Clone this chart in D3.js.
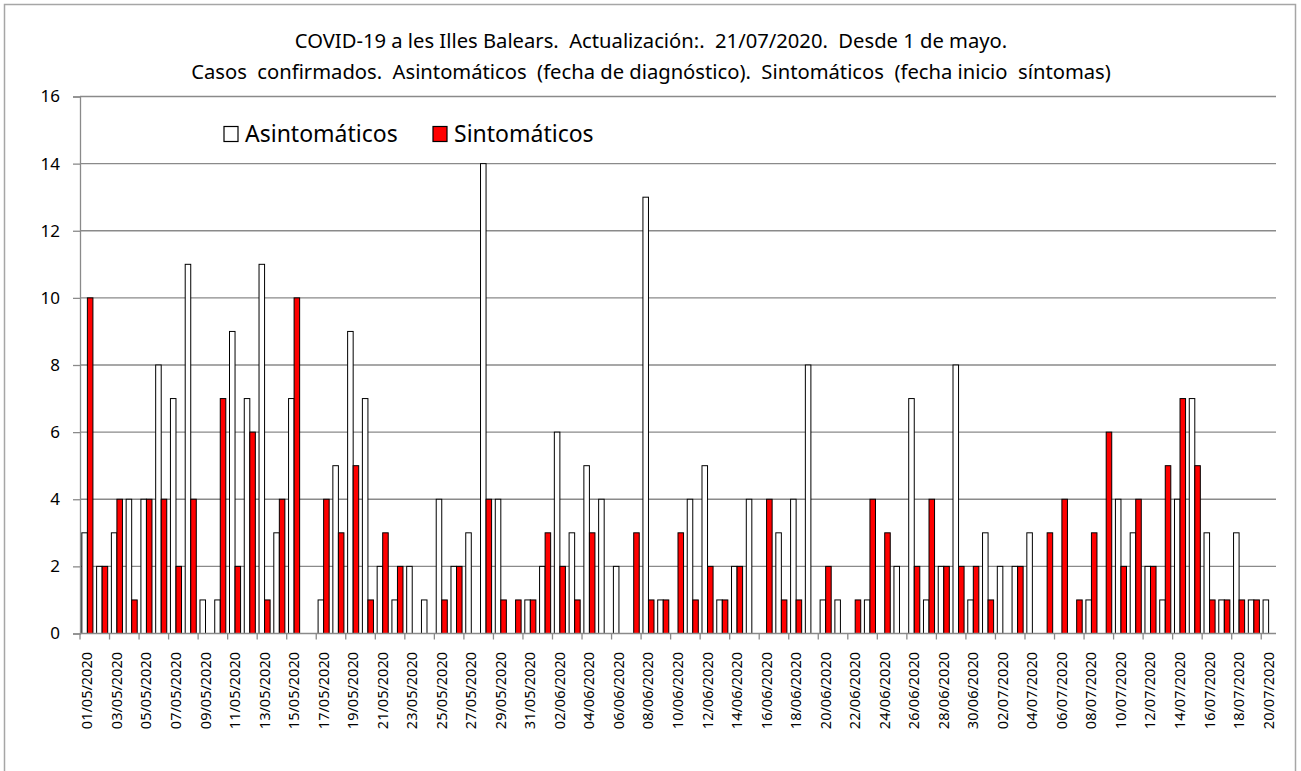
<!DOCTYPE html>
<html>
<head>
<meta charset="utf-8">
<script src="https://cdn.jsdelivr.net/npm/d3@7"></script>
<style>
  body { margin: 0; background: #fff; }
  text { font-family: "Noto Sans", sans-serif; fill: #000; }
</style>
</head>
<body>
<svg id="chart" width="1301" height="771"></svg>
<script>
// Daily confirmed cases, Illes Balears, 1 May – 20 July 2020
const dates = [
  "01/05/2020","02/05/2020","03/05/2020","04/05/2020","05/05/2020","06/05/2020","07/05/2020","08/05/2020","09/05/2020","10/05/2020",
  "11/05/2020","12/05/2020","13/05/2020","14/05/2020","15/05/2020","16/05/2020","17/05/2020","18/05/2020","19/05/2020","20/05/2020",
  "21/05/2020","22/05/2020","23/05/2020","24/05/2020","25/05/2020","26/05/2020","27/05/2020","28/05/2020","29/05/2020","30/05/2020",
  "31/05/2020","01/06/2020","02/06/2020","03/06/2020","04/06/2020","05/06/2020","06/06/2020","07/06/2020","08/06/2020","09/06/2020",
  "10/06/2020","11/06/2020","12/06/2020","13/06/2020","14/06/2020","15/06/2020","16/06/2020","17/06/2020","18/06/2020","19/06/2020",
  "20/06/2020","21/06/2020","22/06/2020","23/06/2020","24/06/2020","25/06/2020","26/06/2020","27/06/2020","28/06/2020","29/06/2020",
  "30/06/2020","01/07/2020","02/07/2020","03/07/2020","04/07/2020","05/07/2020","06/07/2020","07/07/2020","08/07/2020","09/07/2020",
  "10/07/2020","11/07/2020","12/07/2020","13/07/2020","14/07/2020","15/07/2020","16/07/2020","17/07/2020","18/07/2020","19/07/2020",
  "20/07/2020"
];

const asintomaticos = [
  3,2,3,4,4,8,7,11,1,1,
  9,7,11,3,7,0,1,5,9,7,
  2,1,2,1,4,2,3,14,4,0,
  1,2,6,3,5,4,2,0,13,1,
  0,4,5,1,2,4,0,3,4,8,
  1,1,0,1,0,2,7,1,2,8,
  1,3,2,2,3,0,0,0,1,0,
  4,3,2,1,4,7,3,1,3,1,
  1
];

const sintomaticos = [
  10,2,4,1,4,4,2,4,0,7,
  2,6,1,4,10,0,4,3,5,1,
  3,2,0,0,1,2,0,4,1,1,
  1,3,2,1,3,0,0,3,1,1,
  3,1,2,1,2,0,4,1,1,0,
  2,0,1,4,3,0,2,4,2,2,
  2,1,0,2,0,3,4,1,3,6,
  2,4,2,5,7,5,1,1,1,1,
  0
];

const seriesNames = ["Asintomáticos", "Sintomáticos"];
const seriesColors = ["#ffffff", "#ff0000"];
const yTicks = [0, 2, 4, 6, 8, 10, 12, 14, 16];
const titleLines = [
  "COVID-19 a les Illes Balears.  Actualización:.  21/07/2020.  Desde 1 de mayo.",
  "Casos  confirmados.  Asintomáticos  (fecha de diagnóstico).  Sintomáticos  (fecha inicio  síntomas)"
];

const svg = d3.select("#chart");

const plot = { left: 80, right: 1276, top: 96.5, bottom: 633.5 };

// outer frame
svg.append("rect")
  .attr("x", 4.5).attr("y", 4.5)
  .attr("width", 1291).attr("height", 800)
  .attr("fill", "none").attr("stroke", "#a6a6a6").attr("stroke-width", 1.5);

// title
svg.append("g").selectAll("text").data(titleLines).join("text")
  .attr("x", 651)
  .attr("y", (d, i) => 48 + i * 31)
  .attr("text-anchor", "middle")
  .attr("font-size", 20.2)
  .style("white-space", "pre")
  .text(d => d);

// scales
const x = d3.scaleBand()
  .domain(dates)
  .range([plot.left, plot.right])
  .paddingInner(0.25)
  .paddingOuter(0.125);

const xSub = d3.scaleBand()
  .domain(seriesNames)
  .range([0, x.bandwidth()]);

const y = d3.scaleLinear().domain([0, 16]).range([plot.bottom, plot.top]);

// gridlines
svg.append("g").selectAll("line").data(yTicks.filter(t => t > 0)).join("line")
  .attr("x1", plot.left).attr("x2", plot.right)
  .attr("y1", d => y(d)).attr("y2", d => y(d))
  .attr("stroke", "#8a8a8a").attr("stroke-width", 1.3);

// y axis
const yAxis = svg.append("g")
  .attr("transform", `translate(${plot.left},0)`)
  .call(d3.axisLeft(y).tickValues(yTicks).tickSize(7).tickPadding(13).tickFormat(d3.format("d")));
yAxis.select(".domain").attr("stroke", "#8a8a8a").attr("stroke-width", 1.3);
yAxis.selectAll(".tick line").attr("stroke", "#8a8a8a").attr("stroke-width", 1.3);
yAxis.selectAll(".tick text")
  .attr("font-size", 17).attr("font-family", "Noto Sans, sans-serif").attr("fill", "#000");

// bars
const rows = dates.map((d, i) => ({ date: d, values: [asintomaticos[i], sintomaticos[i]] }));
const groups = svg.append("g").selectAll("g").data(rows).join("g")
  .attr("transform", d => `translate(${x(d.date)},0)`);
groups.selectAll("rect")
  .data(d => d.values.map((v, k) => ({ name: seriesNames[k], value: v, k })).filter(e => e.value > 0))
  .join("rect")
  .attr("x", d => xSub(d.name))
  .attr("width", xSub.bandwidth())
  .attr("y", d => y(d.value))
  .attr("height", d => y(0) - y(d.value))
  .attr("fill", d => seriesColors[d.k])
  .attr("stroke", "#000").attr("stroke-width", 1);

// x axis: ticks at every second category boundary
const step = x.step();
const boundaryDates = dates.filter((d, i) => i % 2 === 0);
const xAxisG = svg.append("g");
xAxisG.append("line")
  .attr("x1", plot.left).attr("x2", plot.right)
  .attr("y1", plot.bottom).attr("y2", plot.bottom)
  .attr("stroke", "#8a8a8a").attr("stroke-width", 1.3);
xAxisG.selectAll("line.tick").data(boundaryDates).join("line")
  .attr("class", "tick")
  .attr("x1", d => x(d) - step * x.paddingInner() / 2)
  .attr("x2", d => x(d) - step * x.paddingInner() / 2)
  .attr("y1", plot.bottom).attr("y2", plot.bottom + 6)
  .attr("stroke", "#8a8a8a").attr("stroke-width", 1.3);
xAxisG.selectAll("text").data(boundaryDates).join("text")
  .attr("transform", d => `translate(${x(d) + x.bandwidth() / 2 + 5},652) rotate(-90)`)
  .attr("text-anchor", "end")
  .attr("font-size", 14.5)
  .text(d => d);

// legend
const legend = svg.append("g");
const legendItems = [
  { name: seriesNames[0], color: seriesColors[0], x: 224, tx: 245 },
  { name: seriesNames[1], color: seriesColors[1], x: 433, tx: 454 }
];
legend.selectAll("rect").data(legendItems).join("rect")
  .attr("x", d => d.x).attr("y", 126.5)
  .attr("width", 14).attr("height", 15)
  .attr("fill", d => d.color).attr("stroke", "#000").attr("stroke-width", 1.2);
legend.selectAll("text").data(legendItems).join("text")
  .attr("x", d => d.tx).attr("y", 142)
  .attr("font-size", 23)
  .text(d => d.name);
</script>
</body>
</html>
